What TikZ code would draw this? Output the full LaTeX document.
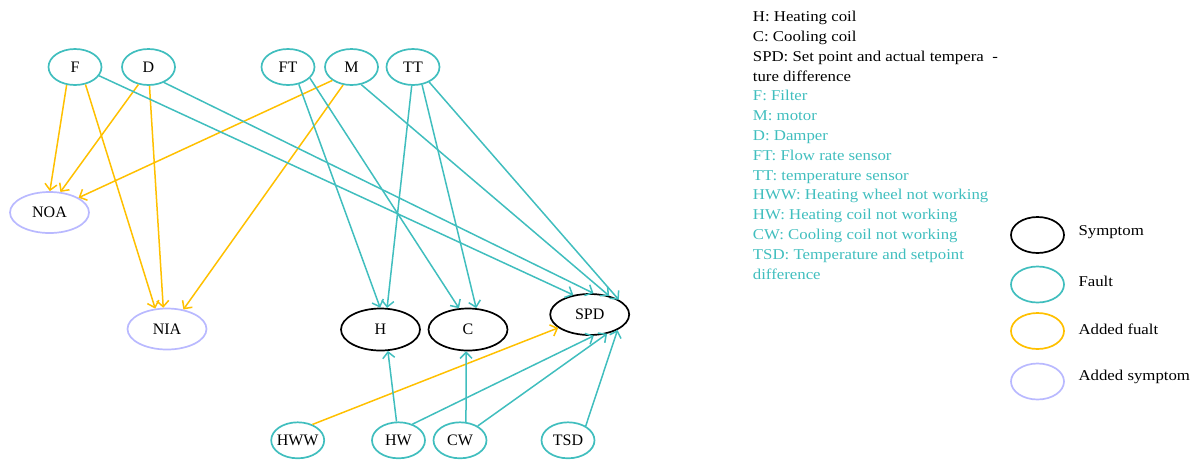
\documentclass[tikz,border=0pt]{standalone}
\usepackage{fontspec}
\setmainfont{Liberation Serif}
\newfontfamily\legfont{Liberation Serif}[FakeStretch=1.12]
\usetikzlibrary{arrows.meta,shapes.geometric}
\definecolor{myteal}{RGB}{64,190,190}
\definecolor{myorange}{RGB}{255,192,0}
\definecolor{mylav}{RGB}{185,185,255}
\tikzset{
  ell/.style={ellipse, draw, line width=1.7pt, inner sep=0pt, font=\fontsize{16}{19}\selectfont},
  symp/.style={ell, draw=black, minimum width=79pt, minimum height=42pt},
  fault/.style={ell, draw=myteal, minimum width=53pt, minimum height=36pt},
  addsym/.style={ell, draw=mylav, minimum width=79pt, minimum height=41pt},
  tedge/.style={draw=myteal, line width=1.5pt, -{Straight Barb[length=6pt,width=12pt]}},
  oedge/.style={draw=myorange, line width=1.5pt, -{Straight Barb[length=6pt,width=12pt]}},
  legtext/.style={anchor=base west, inner sep=0pt, font=\legfont\fontsize{15}{18}\selectfont},
}
\begin{document}
\begin{tikzpicture}[x=1pt,y=-1pt]
\useasboundingbox (0,0) rectangle (1202,459);
% nodes
\node[fault] (F) at (75,67) {F};
\node[fault] (D) at (148.5,67) {D};
\node[fault] (FT) at (288,67) {FT};
\node[fault] (M) at (351.5,67) {M};
\node[fault] (TT) at (413,67) {TT};
\node[addsym] (NOA) at (49.5,212.5) {NOA};
\node[addsym] (NIA) at (167,329) {NIA};
\node[symp] (H) at (380.5,329.5) {H};
\node[symp] (C) at (468,329.5) {C};
\node[symp, minimum height=41pt] (SPD) at (589.7,314.5) {SPD};
\node[fault] (HWW) at (297.7,440.3) {\makebox[0pt]{HWW}};
\node[fault] (HW) at (398.5,440.3) {HW};
\node[fault] (CW) at (460,440.3) {CW};
\node[fault] (TSD) at (568,440.3) {TSD};
% added (orange) edges
\draw[oedge] (F.245) -- (NOA.89);
\draw[oedge] (F.301) -- (NIA.120);
\draw[oedge] (D.240) -- (NOA.62);
\draw[oedge] (D.273) -- (NIA.100);
\draw[oedge] (M.215) -- (NOA.27);
\draw[oedge] (M.245) -- (NIA.50);
\draw[oedge] (HWW.47) -- (SPD.203);
% fault (teal) edges
\draw[tedge] (F.340) -- (SPD.130);
\draw[tedge] (D.315) -- (SPD.80);
\draw[tedge] (M.299) -- (SPD.44);
\draw[tedge] (TT.317) -- (SPD.27);
\draw[tedge] (FT.302) -- (H.91);
\draw[tedge] (FT.333) -- (C.113);
\draw[tedge] (TT.266) -- (H.73);
\draw[tedge] (TT.297) -- (C.69);
\draw[tedge] (HW.96) -- (H.289);
\draw[tedge] (HW.49) -- (SPD.281);
\draw[tedge] (CW.72) -- (C.265);
\draw[tedge] (CW.39) -- (SPD.312);
\draw[tedge] (TSD.39) -- (SPD.331);
% abbreviation list
\foreach [count=\i] \t/\c in {
  H: Heating coil/black,
  C: Cooling coil/black,
  SPD: Set point and actual tempera\ \ -/black,
  ture difference/black,
  F: Filter/myteal,
  M: motor/myteal,
  D: Damper/myteal,
  FT: Flow rate sensor/myteal,
  TT: temperature sensor/myteal,
  HWW: Heating wheel not working/myteal,
  HW: Heating coil not working/myteal,
  CW: Cooling coil not working/myteal,
  TSD: Temperature and setpoint/myteal,
  difference/myteal}
  \node[legtext, text=\c] (abbr\i) at (752.7,{21.7+19.8*(\i-1)}) {\t};
% legend
\node[ell, draw=black, minimum width=53pt, minimum height=36pt] (k1) at (1037.5,235) {};
\node[fault] (k2) at (1037.5,284.5) {};
\node[fault, draw=myorange] (k3) at (1037.5,331) {};
\node[fault, draw=mylav] (k4) at (1037.5,381.5) {};
\node[legtext] (kt1) at (1078.3,235) {Symptom};
\node[legtext] (kt2) at (1078.3,286.7) {Fault};
\node[legtext] (kt3) at (1078.3,334.3) {Added fualt};
\node[legtext] (kt4) at (1078.3,380) {Added symptom};
\end{tikzpicture}
\end{document}
